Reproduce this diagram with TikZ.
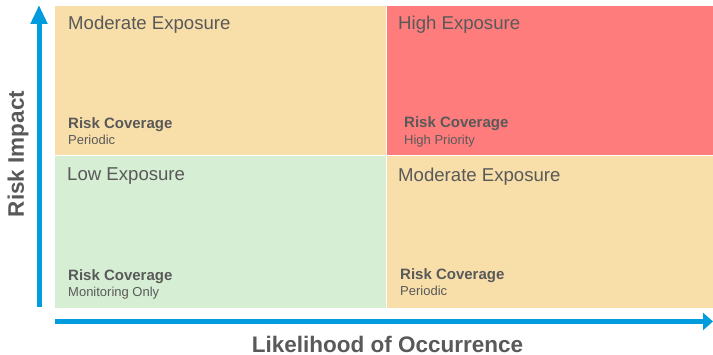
\documentclass[tikz,border=0pt]{standalone}
\usepackage{fontspec}
\setmainfont{Liberation Sans}
\usetikzlibrary{arrows.meta}
\definecolor{moderate}{RGB}{248,223,170}
\definecolor{high}{RGB}{255,124,124}
\definecolor{low}{RGB}{214,238,211}
\definecolor{axisblue}{RGB}{0,156,222}
\definecolor{txt}{RGB}{89,89,89}

\begin{document}
\begin{tikzpicture}[x=1pt, y=-1pt,
    exposure/.style={anchor=base west, inner sep=0pt, text=txt, font=\fontsize{18.6}{22}\selectfont},
    coverage/.style={anchor=base west, inner sep=0pt, text=txt, font=\bfseries\fontsize{15}{18}\selectfont},
    level/.style={anchor=base west, inner sep=0pt, text=txt, font=\fontsize{13}{15}\selectfont},
    axislabel/.style={inner sep=0pt, text=txt, font=\bfseries\fontsize{22.5}{26}\selectfont},
    axis/.style={axisblue, line width=5pt}]
    \useasboundingbox (0, 0) rectangle (713, 355);
    \fill[moderate] (55, 6) rectangle (386, 156);
    \fill[high] (386, 6) rectangle (713, 156);
    \fill[low] (55, 156) rectangle (386, 308);
    \fill[moderate] (386, 156) rectangle (713, 308);
    \draw[white, line width=1pt] (386, 6) -- (386, 308) (55, 156) -- (713, 156);
    \node[exposure] (tl) at (68, 30) {Moderate Exposure};
    \node[coverage] (tlc) at (68, 129) {Risk Coverage};
    \node[level] (tll) at (68, 145) {Periodic};
    \node[exposure] (tr) at (398, 30) {High Exposure};
    \node[coverage] (trc) at (404, 128) {Risk Coverage};
    \node[level] (trl) at (404, 145) {High Priority};
    \node[exposure] (bl) at (67, 181) {Low Exposure};
    \node[coverage] (blc) at (68, 281) {Risk Coverage};
    \node[level] (bll) at (68, 297) {Monitoring Only};
    \node[exposure] (br) at (398, 182) {Moderate Exposure};
    \node[coverage] (brc) at (400, 280) {Risk Coverage};
    \node[level] (brl) at (400, 296) {Periodic};
    \coordinate (origin-y) at (39, 307);
    \coordinate (top) at (39, 5);
    \coordinate (origin-x) at (55, 321.5);
    \coordinate (right) at (713, 321.5);
    \draw[axis, -{Triangle[length=19pt, width=16pt]}] (origin-y) -- (top);
    \draw[axis, -{Triangle[length=10pt, width=17pt]}] (origin-x) -- (right);
    \node[axislabel, rotate=90] (impact) at (18, 154) {Risk Impact};
    \node[axislabel] (likelihood) at (387.5, 344) {Likelihood of Occurrence};
\end{tikzpicture}
\end{document}
